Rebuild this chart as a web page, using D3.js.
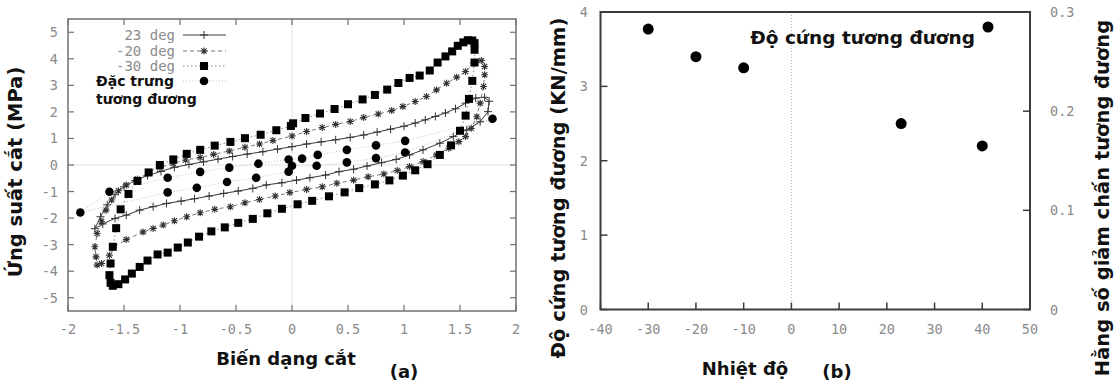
<!DOCTYPE html>
<html>
<head>
<meta charset="utf-8">
<script src="https://cdn.jsdelivr.net/npm/d3@7"></script>
<style>
  body { margin: 0; background: #fff; }
  svg { display: block; }
  .tick-label { font-family: "DejaVu Sans Mono", monospace; font-size: 13.5px; fill: #8a8a8a; }
  .title { font-family: "DejaVu Sans", sans-serif; font-weight: bold; fill: #111; }
</style>
</head>
<body>
<svg id="chart" width="1115" height="382"></svg>
<script>
// ---- data (a): shear strain vs shear stress ----
const strainTicks = [-2, -1.5, -1, -0.5, 0, 0.5, 1, 1.5, 2];
const stressTicks = [-5, -4, -3, -2, -1, 0, 1, 2, 3, 4, 5];

const loop23 = [
  [1.76, 2.40], [1.72, 2.55], [1.64, 2.52], [1.55, 2.33], [1.46, 2.12], [1.37, 1.96],
  [1.28, 1.83], [1.19, 1.70], [1.10, 1.58], [1.00, 1.46], [0.88, 1.35], [0.76, 1.24],
  [0.64, 1.13], [0.52, 1.04], [0.39, 0.95], [0.26, 0.87], [0.13, 0.79], [0.00, 0.69],
  [-0.13, 0.60], [-0.26, 0.50], [-0.40, 0.41], [-0.53, 0.32], [-0.66, 0.22], [-0.79, 0.12],
  [-0.92, 0.02], [-1.05, -0.09], [-1.17, -0.24], [-1.29, -0.40], [-1.40, -0.58], [-1.50, -0.82],
  [-1.58, -1.12], [-1.65, -1.50], [-1.71, -1.95], [-1.76, -2.40], [-1.69, -2.22], [-1.58, -2.01],
  [-1.48, -1.89], [-1.36, -1.70], [-1.24, -1.57], [-1.12, -1.45], [-0.99, -1.36], [-0.87, -1.27],
  [-0.74, -1.17], [-0.61, -1.07], [-0.48, -0.98], [-0.35, -0.88], [-0.23, -0.75], [-0.09, -0.67],
  [0.04, -0.57], [0.16, -0.48], [0.30, -0.38], [0.42, -0.25], [0.55, -0.16], [0.67, -0.04],
  [0.80, 0.09], [0.93, 0.21], [1.05, 0.38], [1.17, 0.57], [1.32, 0.82], [1.44, 1.07],
  [1.56, 1.32], [1.68, 1.63], [1.75, 2.01]
];

const loopM20 = [
  [1.69, 3.94], [1.62, 3.84], [1.55, 3.52], [1.47, 3.31], [1.38, 3.08], [1.29, 2.83],
  [1.20, 2.58], [1.10, 2.39], [0.99, 2.20], [0.89, 2.05], [0.77, 1.92], [0.64, 1.79],
  [0.52, 1.64], [0.39, 1.53], [0.27, 1.41], [0.13, 1.26], [0.00, 1.09], [-0.17, 0.92],
  [-0.29, 0.79], [-0.42, 0.67], [-0.56, 0.53], [-0.70, 0.40], [-0.82, 0.28], [-0.95, 0.19],
  [-1.06, 0.06], [-1.18, -0.09], [-1.28, -0.29], [-1.38, -0.54], [-1.48, -0.75], [-1.55, -0.97],
  [-1.61, -1.32], [-1.66, -1.70], [-1.70, -2.14], [-1.74, -2.58], [-1.76, -3.08], [-1.75, -3.46],
  [-1.74, -3.77], [-1.70, -3.71], [-1.63, -3.40], [-1.60, -3.11], [-1.48, -2.81], [-1.33, -2.52],
  [-1.24, -2.39], [-1.15, -2.26], [-1.05, -2.10], [-0.94, -1.95], [-0.82, -1.80], [-0.69, -1.67],
  [-0.55, -1.57], [-0.42, -1.42], [-0.29, -1.30], [-0.15, -1.17], [-0.02, -1.04], [0.13, -0.92],
  [0.27, -0.82], [0.40, -0.69], [0.55, -0.57], [0.68, -0.44], [0.82, -0.34], [0.94, -0.21],
  [1.05, -0.06], [1.17, 0.13], [1.29, 0.38], [1.40, 0.63], [1.49, 0.88], [1.55, 1.07],
  [1.60, 1.38], [1.65, 1.82], [1.68, 2.33], [1.71, 2.96], [1.72, 3.40], [1.72, 3.71]
];

const loopM30 = [
  [1.61, 4.69], [1.57, 4.70], [1.53, 4.62], [1.48, 4.49], [1.43, 4.28], [1.37, 4.09],
  [1.30, 3.86], [1.23, 3.56], [1.14, 3.37], [1.05, 3.28], [0.95, 3.09], [0.85, 2.84],
  [0.74, 2.64], [0.63, 2.47], [0.50, 2.29], [0.38, 2.11], [0.25, 1.94], [0.12, 1.77],
  [0.01, 1.57], [-0.01, 1.47], [-0.14, 1.31], [-0.28, 1.14], [-0.42, 1.01], [-0.55, 0.87],
  [-0.69, 0.73], [-0.82, 0.57], [-0.94, 0.42], [-1.06, 0.21], [-1.18, 0.00], [-1.28, -0.28],
  [-1.38, -0.60], [-1.46, -1.09], [-1.53, -1.67], [-1.57, -2.38], [-1.60, -3.08], [-1.62, -3.71],
  [-1.63, -4.15], [-1.62, -4.44], [-1.60, -4.55], [-1.55, -4.49], [-1.49, -4.31], [-1.43, -4.09],
  [-1.36, -3.84], [-1.29, -3.60], [-1.20, -3.37], [-1.11, -3.30], [-1.02, -3.11], [-0.93, -2.92],
  [-0.83, -2.70], [-0.72, -2.50], [-0.60, -2.35], [-0.48, -2.18], [-0.35, -2.03], [-0.22, -1.82],
  [-0.09, -1.65], [0.05, -1.48], [0.18, -1.35], [0.33, -1.18], [0.47, -1.03], [0.60, -0.87],
  [0.74, -0.73], [0.87, -0.58], [0.99, -0.40], [1.10, -0.20], [1.21, 0.03], [1.32, 0.38],
  [1.42, 0.74], [1.50, 1.29], [1.55, 1.86], [1.58, 2.49], [1.61, 3.17], [1.63, 3.86],
  [1.63, 4.34], [1.63, 4.59]
];

const loopEquiv = [
  [1.79, 1.74], [1.01, 0.91], [0.75, 0.74], [0.49, 0.57], [0.23, 0.38], [0.09, 0.24],
  [-0.03, 0.21], [-0.30, 0.05], [-0.56, -0.10], [-0.82, -0.26], [-1.11, -0.48], [-1.63, -1.01],
  [-1.89, -1.79], [-1.11, -1.03], [-0.85, -0.86], [-0.58, -0.64], [-0.32, -0.48], [-0.03, -0.25],
  [0.00, -0.03], [0.22, -0.03], [0.49, 0.10], [0.75, 0.26], [1.01, 0.47]
];

// ---- data (b): temperature vs equivalent stiffness ----
const tempTicks = [-40, -30, -20, -10, 0, 10, 20, 30, 40, 50];
const stiffTicks = [0, 1, 2, 3, 4];
const dampTicks = [0, 0.1, 0.2, 0.3];
const temps = [-30, -20, -10, 23, 40];
const stiffness = [3.77, 3.40, 3.25, 2.50, 2.20];

const svg = d3.select('#chart');

// ================= panel (a) =================
const xA = d3.scaleLinear().domain([-2, 2]).range([68, 516]);
const yA = d3.scaleLinear().domain([-5.5, 5.5]).range([311, 19]);
const gA = svg.append('g');

// zero axes (faint)
gA.append('line').attr('x1', xA(0)).attr('x2', xA(0)).attr('y1', yA.range()[1]).attr('y2', yA.range()[0])
  .attr('stroke', '#e4e4e4').attr('stroke-width', 1);
gA.append('line').attr('x1', xA.range()[0]).attr('x2', xA.range()[1]).attr('y1', yA(0)).attr('y2', yA(0))
  .attr('stroke', '#e4e4e4').attr('stroke-width', 1);

const frameColA = '#707070';
// ticks, mirrored inward on all sides
strainTicks.forEach(t => {
  [[yA.range()[0], -6], [yA.range()[1], 6]].forEach(([y0, d]) => {
    gA.append('line').attr('x1', xA(t)).attr('x2', xA(t)).attr('y1', y0).attr('y2', y0 + d)
      .attr('stroke', frameColA).attr('stroke-width', 1.2);
  });
  gA.append('text').attr('class', 'tick-label').attr('x', xA(t)).attr('y', 334)
    .attr('text-anchor', 'middle').text(t);
});
stressTicks.forEach(t => {
  [[xA.range()[0], 6], [xA.range()[1], -6]].forEach(([x0, d]) => {
    gA.append('line').attr('x1', x0).attr('x2', x0 + d).attr('y1', yA(t)).attr('y2', yA(t))
      .attr('stroke', frameColA).attr('stroke-width', 1.2);
  });
  gA.append('text').attr('class', 'tick-label').attr('x', 58).attr('y', yA(t))
    .attr('text-anchor', 'end').attr('dominant-baseline', 'central').text(t);
});
gA.append('rect').attr('x', xA.range()[0]).attr('y', yA.range()[1])
  .attr('width', xA.range()[1] - xA.range()[0]).attr('height', yA.range()[0] - yA.range()[1])
  .attr('fill', 'none').attr('stroke', frameColA).attr('stroke-width', 1.5);

const lineA = d3.line().x(d => xA(d[0])).y(d => yA(d[1])).curve(d3.curveLinearClosed);

const plusPath = 'M-4,0H4M0,-4V4';
const starPath = 'M-3.5,0H3.5M0,-3.5V3.5M-2.6,-2.6L2.6,2.6M-2.6,2.6L2.6,-2.6';

const series = [
  { name: '23 deg', data: loop23, stroke: '#3a3a3a', dash: null, mark: 'plus' },
  { name: '-20 deg', data: loopM20, stroke: '#7a7a7a', dash: '4,3', mark: 'star' },
  { name: '-30 deg', data: loopM30, stroke: '#8a8a8a', dash: '1.5,2.5', mark: 'square' },
  { name: 'equiv', data: loopEquiv, stroke: '#c4c4c4', dash: '1,2', mark: 'circle' }
];

function drawMark(g, kind, x, y) {
  if (kind === 'plus') {
    g.append('path').attr('d', plusPath).attr('transform', `translate(${x},${y})`)
      .attr('stroke', '#333').attr('stroke-width', 1).attr('fill', 'none');
  } else if (kind === 'star') {
    g.append('path').attr('d', starPath).attr('transform', `translate(${x},${y})`)
      .attr('stroke', '#333').attr('stroke-width', 1.1).attr('fill', 'none');
  } else if (kind === 'square') {
    g.append('rect').attr('x', x - 4).attr('y', y - 4).attr('width', 8).attr('height', 8).attr('fill', '#000');
  } else {
    g.append('circle').attr('cx', x).attr('cy', y).attr('r', 4.3).attr('fill', '#000');
  }
}

// draw back to front: equivalent, 23, -20, -30
[series[3], series[0], series[1], series[2]].forEach(s => {
  gA.append('path').datum(s.data).attr('d', lineA).attr('fill', 'none')
    .attr('stroke', s.stroke).attr('stroke-width', 1)
    .attr('stroke-dasharray', s.dash);
  const mg = gA.append('g');
  s.data.forEach(d => drawMark(mg, s.mark, xA(d[0]), yA(d[1])));
});

// legend
const legA = gA.append('g');
const legRows = [35, 51, 66, 81];
series.forEach((s, i) => {
  const y = legRows[i];
  legA.append('line').attr('x1', 183).attr('x2', 226).attr('y1', y).attr('y2', y)
    .attr('stroke', s.stroke).attr('stroke-width', 1).attr('stroke-dasharray', s.dash);
  drawMark(legA, s.mark, 204, y);
  if (i < 3) {
    legA.append('text').attr('class', 'tick-label').attr('x', 175).attr('y', y)
      .attr('text-anchor', 'end').attr('dominant-baseline', 'central').style('font-size', '14px').text(s.name);
  }
});
legA.append('text').attr('class', 'title').attr('x', 96).attr('y', 86).style('font-size', '14px').text('Đặc trưng');
legA.append('text').attr('class', 'title').attr('x', 96).attr('y', 104).style('font-size', '14px').text('tương đương');

svg.append('text').attr('class', 'title').attr('x', 286).attr('y', 365).attr('text-anchor', 'middle')
  .style('font-size', '18px').text('Biến dạng cắt');
svg.append('text').attr('class', 'title').attr('x', 404).attr('y', 378).attr('text-anchor', 'middle')
  .style('font-size', '18px').text('(a)');
svg.append('text').attr('class', 'title').attr('transform', 'translate(22,172) rotate(-90)')
  .attr('text-anchor', 'middle').style('font-size', '19.5px').text('Ứng suất cắt (MPa)');

// ================= panel (b) =================
const xB = d3.scaleLinear().domain([-40, 50]).range([600.5, 1030]);
const yB = d3.scaleLinear().domain([0, 4]).range([309.5, 12]);
const yB2 = d3.scaleLinear().domain([0, 0.3]).range([309.5, 12]);
const gB = svg.append('g');
const frameColB = '#3c3c3c';

gB.append('line').attr('x1', xB(0)).attr('x2', xB(0)).attr('y1', yB.range()[1]).attr('y2', yB.range()[0])
  .attr('stroke', '#aaa').attr('stroke-width', 1).attr('stroke-dasharray', '1,2');

tempTicks.forEach(t => {
  gB.append('line').attr('x1', xB(t)).attr('x2', xB(t)).attr('y1', yB.range()[0]).attr('y2', yB.range()[0] - 7)
    .attr('stroke', frameColB).attr('stroke-width', 1.5);
  gB.append('text').attr('class', 'tick-label').attr('x', xB(t)).attr('y', 334)
    .attr('text-anchor', 'middle').text(t);
});
stiffTicks.forEach(t => {
  gB.append('line').attr('x1', xB.range()[0]).attr('x2', xB.range()[0] + 7).attr('y1', yB(t)).attr('y2', yB(t))
    .attr('stroke', frameColB).attr('stroke-width', 1.5);
  gB.append('text').attr('class', 'tick-label').attr('x', 588).attr('y', yB(t))
    .attr('text-anchor', 'end').attr('dominant-baseline', 'central').text(t);
});
dampTicks.forEach(t => {
  gB.append('line').attr('x1', xB.range()[1]).attr('x2', xB.range()[1] - 7).attr('y1', yB2(t)).attr('y2', yB2(t))
    .attr('stroke', frameColB).attr('stroke-width', 1.5);
  gB.append('text').attr('class', 'tick-label').attr('x', 1050).attr('y', yB2(t))
    .attr('text-anchor', 'start').attr('dominant-baseline', 'central').text(t);
});
gB.append('rect').attr('x', xB.range()[0]).attr('y', yB.range()[1])
  .attr('width', xB.range()[1] - xB.range()[0]).attr('height', yB.range()[0] - yB.range()[1])
  .attr('fill', 'none').attr('stroke', frameColB).attr('stroke-width', 2);

gB.selectAll('circle.pt').data(temps).enter().append('circle').attr('class', 'pt')
  .attr('cx', d => xB(d)).attr('cy', (d, i) => yB(stiffness[i])).attr('r', 5.5).attr('fill', '#000');

// key
gB.append('text').attr('class', 'title').attr('x', 975).attr('y', 44).attr('text-anchor', 'end')
  .style('font-size', '18.5px').text('Độ cứng tương đương');
gB.append('circle').attr('cx', 988).attr('cy', 27).attr('r', 5.5).attr('fill', '#000');

svg.append('text').attr('class', 'title').attr('x', 745).attr('y', 375).attr('text-anchor', 'middle')
  .style('font-size', '18px').text('Nhiệt độ');
svg.append('text').attr('class', 'title').attr('x', 837).attr('y', 378).attr('text-anchor', 'middle')
  .style('font-size', '18px').text('(b)');
svg.append('text').attr('class', 'title').attr('transform', 'translate(565,188) rotate(-90)')
  .attr('text-anchor', 'middle').style('font-size', '19.5px').text('Độ cứng tương đương (KN/mm)');
svg.append('text').attr('class', 'title').attr('transform', 'translate(1109,198) rotate(-90)')
  .attr('text-anchor', 'middle').style('font-size', '19.5px').text('Hằng số giảm chấn tương đương');
</script>
</body>
</html>
